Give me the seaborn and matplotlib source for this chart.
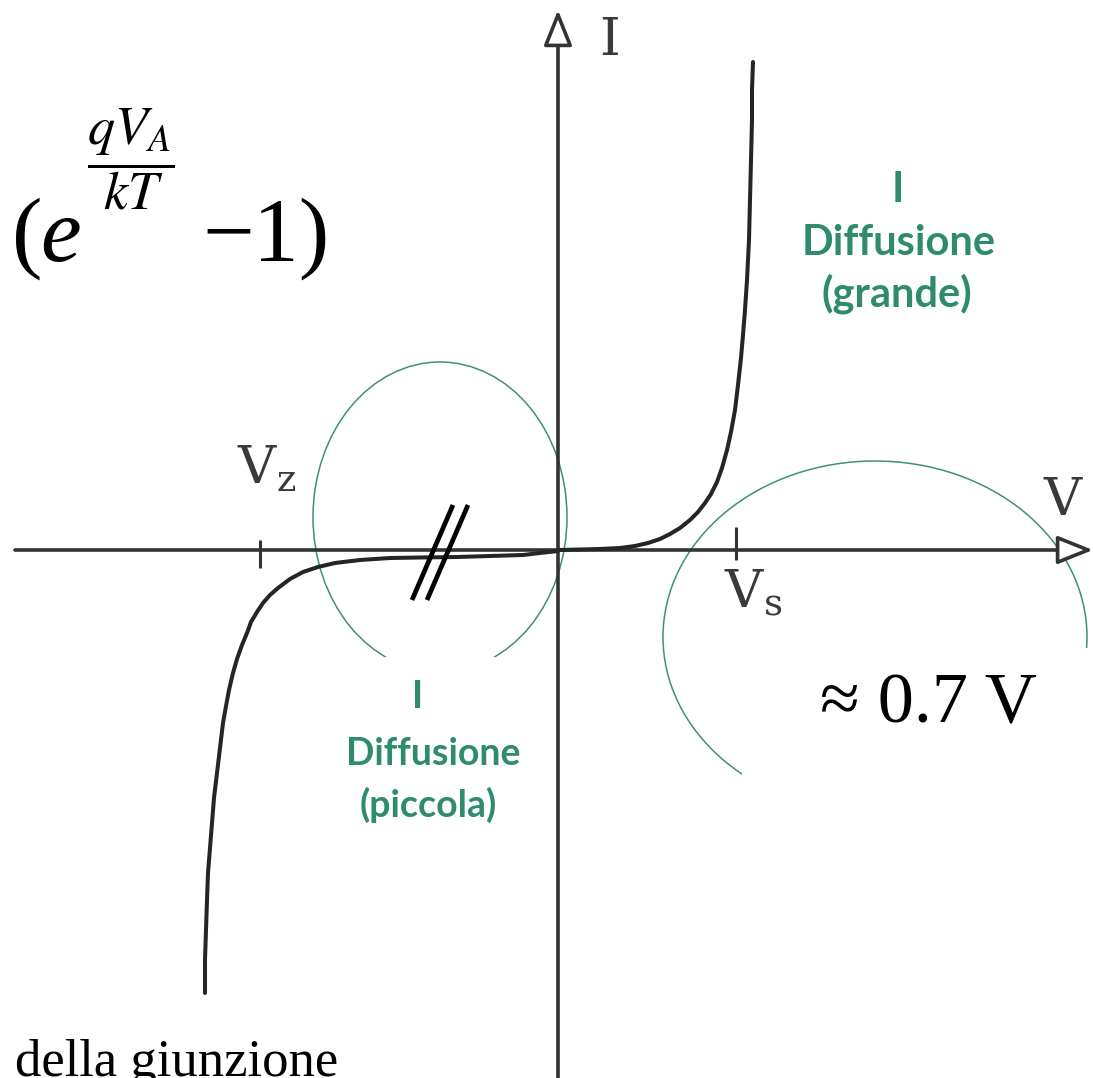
import matplotlib
matplotlib.use("Agg")
import matplotlib.pyplot as plt
import pandas as pd
import seaborn as sns
from matplotlib.patches import Ellipse, Rectangle

# Schematic I-V characteristic of a p-n junction (diagram units)
v_forward = [0, 22, 42, 62, 77, 90, 102, 112, 122, 132, 140, 147, 153, 159, 164,
             169, 173, 177, 180, 183, 185, 187, 189, 191, 192, 193, 194, 194, 195]
i_forward = [0, 0.5, 1, 2, 4, 7, 11, 16, 22, 30, 38, 47, 56, 68, 82,
             100, 118, 140, 165, 192, 215, 240, 270, 310, 350, 390, 430, 460, 488]
v_reverse = [0, -18, -35, -68, -101, -138, -168, -198, -223, -240, -255, -268, -280,
             -288, -295, -301, -307, -311, -316, -321, -325, -329, -332, -335, -338,
             -341, -344, -346, -348, -350, -351, -352, -353, -353]
i_reverse = [-1, -3, -5, -6, -7, -7.5, -8, -10, -13, -17, -22, -29, -38,
             -45, -53, -62, -72, -83, -95, -109, -123, -140, -156, -173, -198,
             -223, -248, -273, -298, -323, -350, -380, -410, -443]

# Marked voltages on the V axis
tick_v = [-298, 178]
tick_labels = [r"V$_\mathregular{z}$", r"V$_\mathregular{s}$"]

# Axis-break marks on the reverse branch
break_a_v = [-146, -105]
break_a_i = [-50, 45]
break_b_v = [-131, -90]
break_b_i = [-50, 45]

sns.set_theme(style="white")
plt.rcParams["font.family"] = ["DejaVu Sans"]

fig = plt.figure(figsize=(10.93, 10.78), dpi=100)
ax = fig.add_axes([0, 0, 1, 1])
ax.set_xlim(-558, 535)
ax.set_ylim(-528, 550)
ax.axis("off")

axis_col = "#333333"
green = "#2e8b6c"
ring = "#3f8f80"

# Highlight rings with white masks behind the labels
ax.add_patch(Ellipse((-118, 33), 254, 310, fill=False, ec=ring, lw=1.1, zorder=1))
ax.add_patch(Ellipse((317, -87), 424, 352, fill=False, ec=ring, lw=1.1, zorder=1))
ax.add_patch(Rectangle((-193, -285), 160, 178, fc="white", ec="none", zorder=2))
ax.add_patch(Rectangle((184, -300), 360, 202, fc="white", ec="none", zorder=2))

# Coordinate axes with open arrow heads
ax.annotate("", xy=(535, 0), xytext=(-543, 0),
            arrowprops=dict(arrowstyle="-|>,head_length=1.0,head_width=0.4",
                            mutation_scale=22, lw=2.6, color=axis_col, fc="white",
                            shrinkA=0, shrinkB=0), zorder=3)
ax.annotate("", xy=(0, 540), xytext=(0, -528),
            arrowprops=dict(arrowstyle="-|>,head_length=1.0,head_width=0.4",
                            mutation_scale=22, lw=2.6, color=axis_col, fc="white",
                            shrinkA=0, shrinkB=0), zorder=3)

ax.vlines(tick_v[0], -18, 10, color=axis_col, lw=2.2, zorder=3)
ax.vlines(tick_v[1], -10, 23, color=axis_col, lw=2.2, zorder=3)

# Characteristic curve, drawn point by point in order
curve = pd.DataFrame({
    "V": v_reverse[::-1] + v_forward,
    "I": i_reverse[::-1] + i_forward,
})
sns.lineplot(data=curve, x="V", y="I", sort=False, estimator=None, errorbar=None,
             ax=ax, color="#252525", lw=2.9, zorder=4)

ax.plot(break_a_v, break_a_i, color="black", lw=3.4, solid_capstyle="butt", zorder=4)
ax.plot(break_b_v, break_b_i, color="black", lw=3.4, solid_capstyle="butt", zorder=4)

# Axis labels
lab = dict(family=["DejaVu Serif"], color="#3a3a3a", zorder=5)
ax.text(52, 495, "I", fontsize=38, ha="center", va="baseline", **lab)
ax.text(505, 35, "V", fontsize=38, ha="center", va="baseline", **lab)
ax.text(-321, 67, tick_labels[0], fontsize=38, ha="left", va="baseline", **lab)
ax.text(166, -58, tick_labels[1], fontsize=38, ha="left", va="baseline", **lab)

# Region labels
gtxt = dict(family=["Lato", "DejaVu Sans"], fontweight="bold", color=green,
            ha="center", va="baseline", zorder=5)
ax.text(340, 348, "I", fontsize=30, **gtxt)
ax.text(341, 295, "Diffusione", fontsize=30, **gtxt)
ax.text(339, 244, "(grande)", fontsize=30, **gtxt)
ax.text(-140, -158, "I", fontsize=27, **gtxt)
ax.text(-125, -215, "Diffusione", fontsize=27, **gtxt)
ax.text(-130, -267, "(piccola)", fontsize=27, **gtxt)

# Diode equation fragment
serif = dict(family=["Liberation Serif", "DejaVu Serif"], color="black", zorder=5)
ax.text(-546, 289, "(", fontsize=66, ha="left", va="baseline", **serif)
ax.text(-518, 289, "e", fontsize=66, style="italic", ha="left", va="baseline", **serif)
ax.text(-427, 391, r"$\dfrac{qV_A}{kT}$", fontsize=39, math_fontfamily="stix",
        ha="center", va="center", color="black", zorder=5)
ax.text(-356, 289, "\u2212", fontsize=66, ha="left", va="baseline", **serif)
ax.text(-305, 289, "1)", fontsize=66, ha="left", va="baseline", **serif)

ax.text(370, -172, "\u2248 0.7 V", fontsize=52, ha="center", va="baseline", **serif)
ax.text(-543, -526, "della giunzione", fontsize=38, ha="left", va="baseline", **serif)

fig.savefig("out.png", dpi=100, facecolor="white")
